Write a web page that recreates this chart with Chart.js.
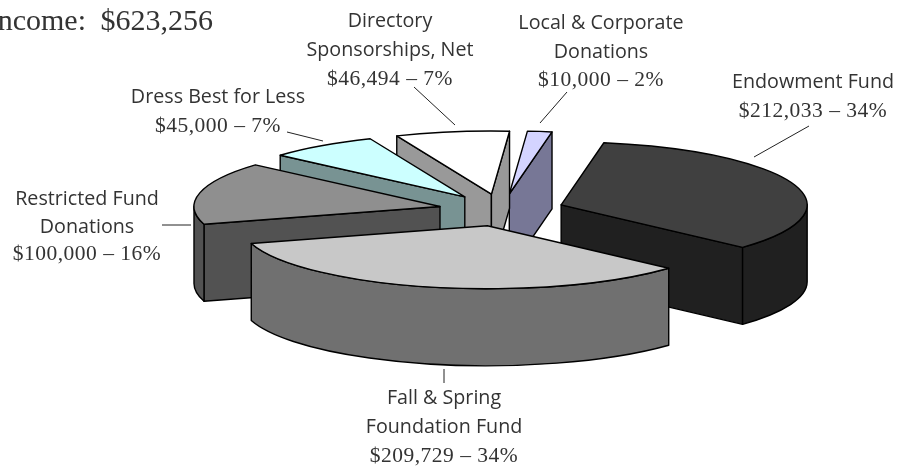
<!DOCTYPE html>
<html>
<head>
<meta charset="utf-8">
<style>html,body{margin:0;padding:0;background:#fff;overflow:hidden}canvas{display:block}</style>
<script src="https://cdn.jsdelivr.net/npm/chart.js@4"></script>
</head>
<body>
<canvas id="c" width="899" height="466"></canvas>
<script>
const titleText = "Income: $623,256";
const categories = ["Endowment Fund", "Fall & Spring Foundation Fund", "Restricted Fund Donations", "Dress Best for Less", "Directory Sponsorships, Net", "Local & Corporate Donations"];
const values = [212033, 209729, 100000, 45000, 46494, 10000];
const valueLabels = ["$212,033 – 34%", "$209,729 – 34%", "$100,000 – 16%", "$45,000 – 7%", "$46,494 – 7%", "$10,000 – 2%"];
const nameLines = [["Endowment Fund"], ["Fall & Spring", "Foundation Fund"], ["Restricted Fund", "Donations"], ["Dress Best for Less"], ["Directory", "Sponsorships, Net"], ["Local & Corporate", "Donations"]];
const topColors = ["#404040", "#c8c8c8", "#8f8f8f", "#ccffff", "#ffffff", "#d4d4ff"];
const wallColors = ["#202020", "#707070", "#525252", "#789393", "#999999", "#777796"];

// layout of the tilted pie
const CX = 501.5, CY = 210, RADIUS = 246, TILT = 63 / 246, DEPTH = 77, EXPLODE = 63, LINE = 1.4;
// label anchors: centre x, first baseline, line step
const labelAnchors = [[813, 88, 29], [444, 404, 29], [87, 205, 27.5], [218, 103, 28.5], [390, 27, 29], [601, 29, 28.5]];
const leaders = [[809,126,754,157],[444,369,444,383],[162,225,191,225],[287,132,323,141],[414,87,455,125],[567,92,540,123]];

const NAME_FONT = '19.7px "Open Sans"', VALUE_FONT = '21.5px "Liberation Serif"', TITLE_FONT = '30px "Liberation Serif"', INK = '#333333';

function wall(ctx, color, build) {
  ctx.beginPath(); build(); ctx.closePath();
  ctx.fillStyle = color; ctx.fill();
  ctx.strokeStyle = '#000'; ctx.lineWidth = LINE; ctx.lineJoin = 'round'; ctx.stroke();
}

const pie3d = {
  id: 'pie3d',
  beforeDatasetDraw(chart, args) {
    const ctx = chart.ctx, arcs = args.meta.data, ry = RADIUS * TILT;
    const order = arcs.map((a, i) => i).sort((p, q) =>
      Math.sin((arcs[p].startAngle + arcs[p].endAngle) / 2) - Math.sin((arcs[q].startAngle + arcs[q].endAngle) / 2));
    order.forEach(i => {
      const arc = arcs[i], s = arc.startAngle, e = arc.endAngle, mid = (s + e) / 2;
      const ax = CX + EXPLODE * Math.cos(mid), ay = CY + EXPLODE * TILT * Math.sin(mid);
      const face = th => wall(ctx, wallColors[i], () => {
        const px = ax + RADIUS * Math.cos(th), py = ay + ry * Math.sin(th);
        ctx.moveTo(ax, ay); ctx.lineTo(px, py); ctx.lineTo(px, py + DEPTH); ctx.lineTo(ax, ay + DEPTH);
      });
      if (Math.cos(s) < 0) face(s);
      if (Math.cos(e) > 0) face(e);
      for (let n = -1; n <= 1; n++) {
        const a0 = Math.max(s, 2 * Math.PI * n), a1 = Math.min(e, Math.PI + 2 * Math.PI * n);
        if (a1 > a0) wall(ctx, wallColors[i], () => {
          ctx.ellipse(ax, ay, RADIUS, ry, 0, a0, a1);
          ctx.ellipse(ax, ay + DEPTH, RADIUS, ry, 0, a1, a0, true);
        });
      }
      ctx.save();
      ctx.translate(ax, ay); ctx.scale(1, TILT); ctx.translate(-arc.x, -arc.y);
      arc.draw(ctx);
      ctx.restore();
      ctx.beginPath();
      ctx.moveTo(ax, ay);
      ctx.ellipse(ax, ay, RADIUS, ry, 0, s, e);
      ctx.closePath();
      ctx.strokeStyle = '#000'; ctx.lineWidth = LINE; ctx.lineJoin = 'round'; ctx.stroke();
    });
    return false;
  },
  afterDraw(chart) {
    const ctx = chart.ctx;
    ctx.save();
    ctx.strokeStyle = '#222'; ctx.lineWidth = 1;
    leaders.forEach(l => { ctx.beginPath(); ctx.moveTo(l[0], l[1]); ctx.lineTo(l[2], l[3]); ctx.stroke(); });
    ctx.fillStyle = INK; ctx.textAlign = 'center'; ctx.textBaseline = 'alphabetic';
    categories.forEach((c, i) => {
      const [x, y, step] = labelAnchors[i];
      ctx.font = NAME_FONT; ctx.letterSpacing = '0px';
      nameLines[i].forEach((t, j) => ctx.fillText(t, x, y + j * step));
      ctx.font = VALUE_FONT; ctx.letterSpacing = '0.5px';
      ctx.fillText(valueLabels[i], x, y + nameLines[i].length * step);
    });
    ctx.font = TITLE_FONT; ctx.textAlign = 'right'; ctx.letterSpacing = '0px'; ctx.wordSpacing = '7px';
    ctx.fillText(titleText, 213, 30);
    ctx.restore();
  }
};

new Chart(document.getElementById('c'), {
  type: 'pie',
  data: { labels: categories, datasets: [{ data: values, backgroundColor: topColors, borderWidth: 0, radius: RADIUS }] },
  options: {
    responsive: false, animation: false, rotation: 10,
    layout: { padding: 0 },
    plugins: { legend: { display: false }, tooltip: { enabled: false }, title: { display: false } }
  },
  plugins: [pie3d]
});
</script>
</body>
</html>
